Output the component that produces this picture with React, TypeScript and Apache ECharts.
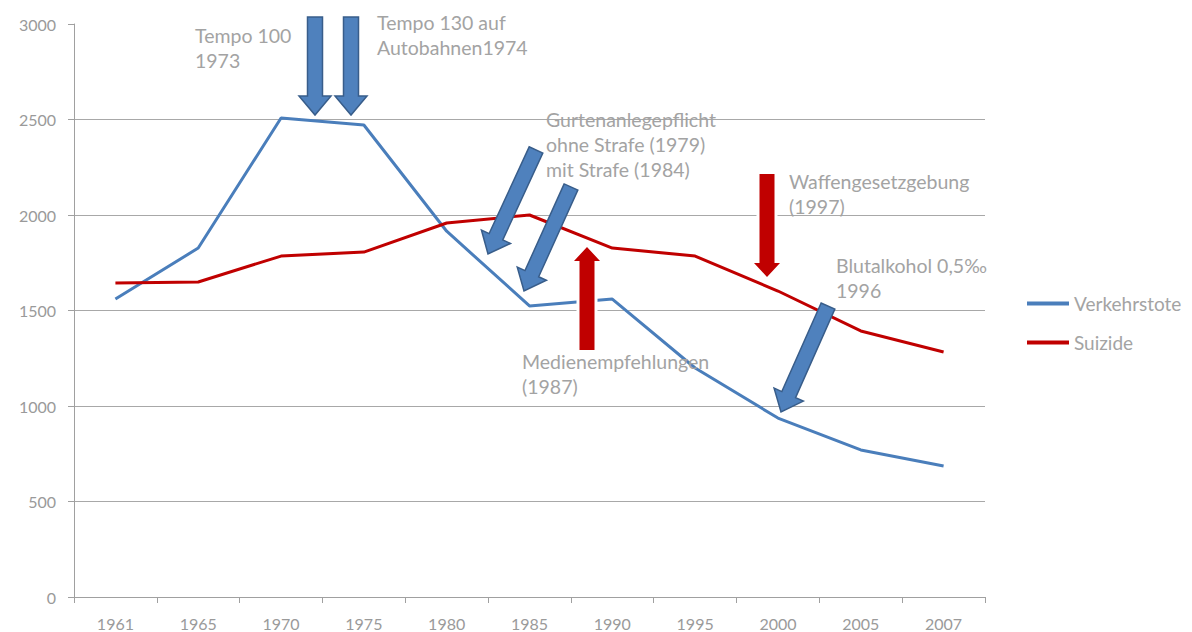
import React, { useEffect, useRef } from "react";
import * as echarts from "echarts";

const years = ["1961", "1965", "1970", "1975", "1980", "1985", "1990", "1995", "2000", "2005", "2007"];
const verkehrstote = [1560, 1827, 2508, 2471, 1915, 1524, 1560, 1199, 937, 770, 686];
const suizide = [1644, 1649, 1785, 1806, 1958, 2000, 1827, 1785, 1602, 1393, 1283];

const BLUE = "#4a7ebb";
const BLUE_FILL = "#4f81bd";
const BLUE_EDGE = "#385d8a";
const RED = "#c00000";
const TEXT = "#a3a3a3";
const FONT = "Lato, 'Open Sans', sans-serif";

function arrowPoints(x1: number, y1: number, x2: number, y2: number, sw: number, hw: number, hl: number) {
  const dx = x2 - x1, dy = y2 - y1;
  const len = Math.sqrt(dx * dx + dy * dy);
  const ux = dx / len, uy = dy / len;
  const nx = -uy, ny = ux;
  const bx = x2 - ux * hl, by = y2 - uy * hl;
  return [
    [x1 + nx * sw / 2, y1 + ny * sw / 2],
    [bx + nx * sw / 2, by + ny * sw / 2],
    [bx + nx * hw / 2, by + ny * hw / 2],
    [x2, y2],
    [bx - nx * hw / 2, by - ny * hw / 2],
    [bx - nx * sw / 2, by - ny * sw / 2],
    [x1 - nx * sw / 2, y1 - ny * sw / 2],
  ];
}

function blueArrow(x1: number, y1: number, x2: number, y2: number) {
  return {
    type: "polygon",
    z: 100,
    shape: { points: arrowPoints(x1, y1, x2, y2, 15, 32, 19) },
    style: { fill: BLUE_FILL, stroke: BLUE_EDGE, lineWidth: 1.5 },
  };
}

function redArrow(x1: number, y1: number, x2: number, y2: number) {
  const pts = arrowPoints(x1, y1, x2, y2, 15, 26, 14);
  return [
    { type: "polygon", z: 99, shape: { points: pts }, style: { fill: "#fff", stroke: "#fff", lineWidth: 6 } },
    { type: "polygon", z: 100, shape: { points: pts }, style: { fill: RED } },
  ];
}

function label(x: number, y: number, text: string) {
  return {
    type: "text",
    z: 101,
    x,
    y,
    style: { text, fill: TEXT, font: `19.5px ${FONT}`, lineHeight: 25, verticalAlign: "top", align: "left" },
  };
}

export default function App() {
  const ref = useRef<HTMLDivElement>(null);
  useEffect(() => {
    if (!ref.current) return;
    const chart = echarts.init(ref.current, undefined, { renderer: "svg" });
    chart.setOption({
      animation: false,
      backgroundColor: "#fff",
      grid: { left: 74, right: 207, top: 24, bottom: 35, containLabel: false },
      legend: {
        orient: "vertical",
        left: 1022,
        top: 289,
        icon: "rect",
        itemWidth: 42,
        itemHeight: 4,
        itemGap: 20,
        textStyle: { color: TEXT, fontSize: 19, fontFamily: FONT },
        data: ["Verkehrstote", "Suizide"],
      },
      xAxis: {
        type: "category",
        data: years,
        boundaryGap: true,
        axisLine: { lineStyle: { color: "#a0a0a0", width: 1 } },
        axisTick: { show: true, length: 6, lineStyle: { color: "#a0a0a0" } },
        axisLabel: { color: "#9a9a9a", fontSize: 16, fontFamily: FONT, margin: 18 },
      },
      yAxis: {
        type: "value",
        min: 0,
        max: 3000,
        interval: 500,
        axisLine: { show: true, lineStyle: { color: "#a0a0a0", width: 1 } },
        axisTick: { show: true, length: 6, lineStyle: { color: "#a0a0a0" } },
        axisLabel: { color: "#9a9a9a", fontSize: 16, fontFamily: FONT, margin: 18, formatter: (v: number) => String(v) },
        splitLine: { showMaxLine: false, lineStyle: { color: "#a8a8a8", width: 1 } },
      },
      series: [
        {
          name: "Verkehrstote",
          type: "line",
          data: verkehrstote,
          symbol: "none",
          lineStyle: { color: BLUE, width: 3 },
          itemStyle: { color: BLUE },
        },
        {
          name: "Suizide",
          type: "line",
          data: suizide,
          symbol: "none",
          lineStyle: { color: RED, width: 3 },
          itemStyle: { color: RED },
        },
      ],
      graphic: [
        blueArrow(315, 17, 315, 115),
        blueArrow(351, 17, 351, 115),
        blueArrow(536, 150, 488, 254),
        blueArrow(571, 187, 524, 291),
        blueArrow(828, 306, 781, 412),
        ...redArrow(587, 350, 587, 247),
        ...redArrow(767, 174, 767, 277),
        label(195, 23, "Tempo 100\n1973"),
        label(377, 10, "Tempo 130 auf\nAutobahnen1974"),
        label(546, 107, "Gurtenanlegepflicht\nohne Strafe (1979)\nmit Strafe (1984)"),
        label(522, 349, "Medienempfehlungen\n(1987)"),
        label(789, 169, "Waffengesetzgebung\n(1997)"),
        label(836, 253, "Blutalkohol 0,5‰\n1996"),
      ],
    });
    return () => chart.dispose();
  }, []);
  return <div ref={ref} style={{ width: 1192, height: 632, position: "absolute", left: 0, top: 0 }} />;
}
